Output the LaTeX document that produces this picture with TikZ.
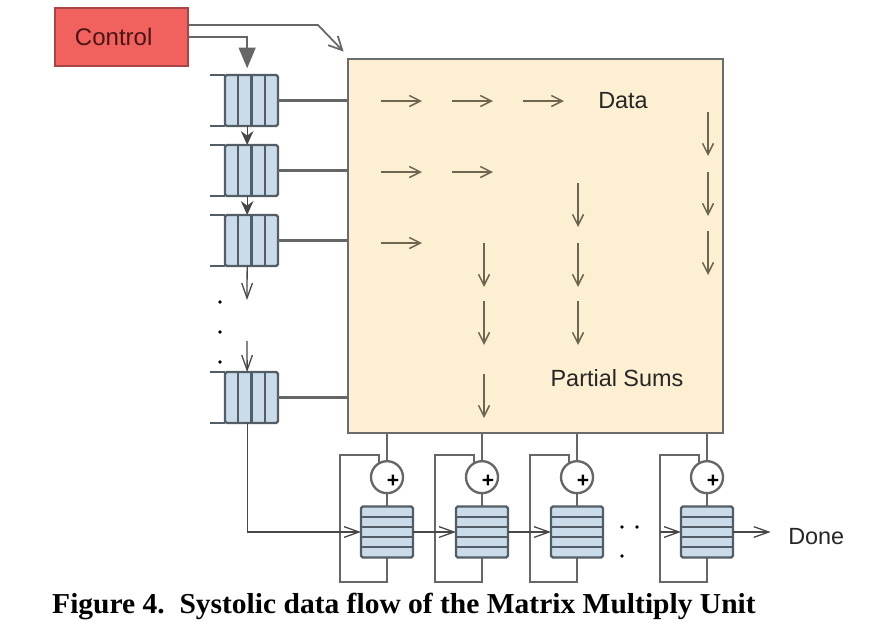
\documentclass[tikz,border=0pt]{standalone}
\usepackage{fontspec}
\usepackage{graphicx}
\usetikzlibrary{positioning,calc,arrows.meta}
\newfontfamily\labelfont{Liberation Sans}
\newfontfamily\capfont{Liberation Serif}
\definecolor{ctrlred}{HTML}{F1625F}
\definecolor{ctrlborder}{HTML}{A94545}
\definecolor{ctrltext}{HTML}{4A1515}
\definecolor{mxufill}{HTML}{FDF0D2}
\definecolor{mxuborder}{HTML}{6B6B6B}
\definecolor{wiregray}{HTML}{666666}
\definecolor{fifoblue}{HTML}{CADCEA}
\definecolor{fifoline}{HTML}{535D66}
\definecolor{flowbrown}{HTML}{6E6650}
\tikzstyle{wire} = [draw=wiregray,line width=2pt]
\tikzstyle{thinwire} = [draw=wiregray!70!black,line width=1.1pt]

\begin{document}
\begin{tikzpicture}[x=0.03cm,y=-0.03cm,
            ctrlbox/.style = {rectangle, draw=ctrlborder, fill=ctrlred, line width=1.2pt,
              minimum width=3.99cm, minimum height=1.74cm, text width=2.79cm, inner xsep=0.6cm,
              align=left, text=ctrltext, font=\labelfont\fontsize{20.5}{24}\selectfont},
            mxubox/.style = {rectangle, draw=mxuborder, fill=mxufill, line width=2.4pt,
              minimum width=11.25cm, minimum height=11.22cm, inner sep=0pt},
            fifo/.style = {rectangle, rounded corners=1.5pt, draw=fifoline, fill=fifoblue,
              line width=2pt, minimum width=1.59cm, minimum height=1.53cm, inner sep=0pt, outer sep=0pt},
            acc/.style = {fifo, minimum width=1.56cm},
            adder/.style = {circle, draw=wiregray, fill=white, line width=2pt,
              minimum size=0.96cm, inner sep=0pt, outer sep=0pt},
            plusmark/.style = {inner sep=0pt, font=\labelfont\bfseries\fontsize{18}{18}\selectfont},
            fifoedge/.style = {draw=fifoline, line width=2pt},
            flow/.style = {draw=flowbrown, line width=1.3pt, -{Straight Barb[length=0.33cm,width=0.33cm]}},
            lbl/.style = {inner sep=0.1cm, text=black!85, font=\labelfont\fontsize{20}{24}\selectfont},
            tip/.style = {-{Straight Barb[length=0.45cm,width=0.32cm]}}]
            \useasboundingbox (0,0) rectangle (876,630);
            \node[ctrlbox] (ctrl) at (121.5,37) {Control};
            \node[mxubox] (mxu) at (535.5,246) {};
            \node[fifo] (q1) at (251.5,100.5) {};
            \node[fifo] (q2) [below = 0.57cm of q1] {};
            \node[fifo] (q3) [below = 0.57cm of q2] {};
            \node[fifo] (q4) at (251.5,397.5) {};
            \coordinate (q3out) at ($(q3.south)+(-4.5,34)$);
            \coordinate (q4in) at ($(q4.north)+(-4.5,-31)$);
            \coordinate (ctrlbend) at (318,25);
            \foreach \q in {q1,q2,q3,q4} {
              \foreach \k in {1,2,3}
                \draw[fifoedge] ($(\q.north west)!\k/4!(\q.north east)$) -- ($(\q.south west)!\k/4!(\q.south east)$);
              \draw[fifoedge] (\q.north west) -- ++(-15,0);
              \draw[fifoedge] (\q.south west) -- ++(-15,0);
              \draw[wire] (\q.east) -- (\q.east -| mxu.west);
            }
            \draw[wire,line width=1.5pt,-{Straight Barb[length=0.4cm,width=0.4cm]}]
              ([yshift=0.36cm]ctrl.east) -- (ctrlbend) -- ($(mxu.north west)+(-3,-6)$);
            \draw[wire,-{Triangle[length=0.62cm,width=0.5cm]},shorten >=0.2cm] (ctrl.east) -| ([xshift=-0.13cm]q1.north);
            \draw[thinwire,-{Stealth[length=0.42cm,width=0.38cm]}] ([xshift=-0.13cm]q1.south) -- ([xshift=-0.13cm]q2.north);
            \draw[thinwire,-{Stealth[length=0.42cm,width=0.38cm]}] ([xshift=-0.13cm]q2.south) -- ([xshift=-0.13cm]q3.north);
            \draw[thinwire,tip] ([xshift=-0.13cm]q3.south) -- (q3out);
            \draw[thinwire,tip] (q4in) -- ([xshift=-0.13cm]q4.north);
            \foreach \y in {302,332,362}
              \fill (220,\y) circle[radius=1.6pt];
            \foreach \y/\n in {101/3,172/2,243/1}
              \foreach \i in {1,...,\n}
                \draw[flow] ({310+71*\i},\y) -- ++(41,0);
            \foreach \x/\y in {708/112,708/172,708/231,578/183,578/243,578/301,484/243,484/301,484/374}
              \draw[flow] (\x,\y) -- ++(0,44);
            \node[lbl] (data) at (623,101) {Data};
            \node[lbl] (psums) at (617,378) {Partial Sums};
            \node[acc] (a1) at (387,532) {};
            \node[acc] (a2) [right = 1.29cm of a1] {};
            \node[acc] (a3) [right = 1.29cm of a2] {};
            \node[acc] (a4) [right = 2.34cm of a3] {};
            \node[lbl] (done) [right = 1.55cm of a4, yshift=-0.15cm] {Done};
            \coordinate (a4in) at ($(a4.west)+(-21,0)$);
            \foreach \i in {1,2,3,4} {
              \node[adder] (c\i) [above = 0.4cm of a\i] {};
              \node[plusmark] (p\i) at ($(c\i.center)+(6,4)$) {+};
              \foreach \k in {1,2,3,4}
                \draw[fifoedge] ($(a\i.north west)!\k/5!(a\i.south west)$) -- ($(a\i.north east)!\k/5!(a\i.south east)$);
              \draw[wire] (c\i.north |- mxu.south) -- (c\i.north);
              \draw[wire] (c\i.south) -- (a\i.north);
              \draw[wire] (a\i.south) |- ($(a\i.west)+(-21,50)$) |- ($(c\i.120)+(0,-8)$) -- (c\i.120);
            }
            \draw[thinwire,tip] ([xshift=-0.13cm]q4.south) |- (a1.west);
            \draw[thinwire,tip] (a1.east) -- (a2.west);
            \draw[thinwire,tip] (a2.east) -- (a3.west);
            \draw[thinwire,tip] (a4in) -- (a4.west);
            \draw[thinwire,tip,shorten >=0.42cm] (a4.east) -- (a4.east -| done.west);
            \fill (622,527) circle[radius=1.6pt];
            \fill (637,527) circle[radius=1.6pt];
            \fill (622,556) circle[radius=1.6pt];
            \node[anchor=base west, inner sep=0pt] (caption) at (52,613)
              {\resizebox{21.1cm}{0.61cm}{\capfont\bfseries Figure 4.\ \ Systolic data flow of the Matrix Multiply Unit}};
\end{tikzpicture}
\end{document}
